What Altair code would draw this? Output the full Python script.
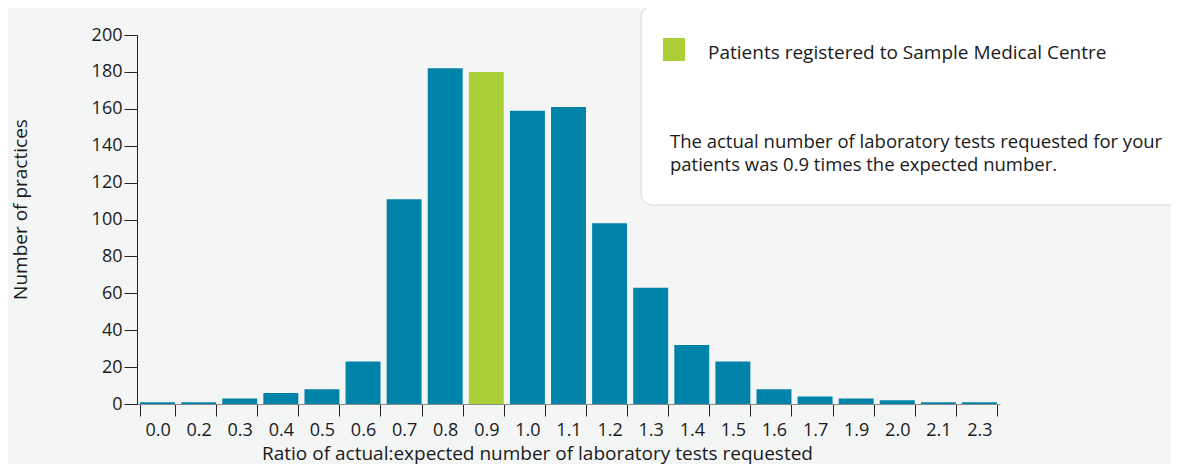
import altair as alt
import pandas as pd

ratios = ["0.0", "0.2", "0.3", "0.4", "0.5", "0.6", "0.7", "0.8", "0.9", "1.0", "1.1",
          "1.2", "1.3", "1.4", "1.5", "1.6", "1.7", "1.9", "2.0", "2.1", "2.3"]
practices = [1, 1, 3, 6, 8, 23, 111, 182, 180, 159, 161, 98, 63, 32, 23, 8, 4, 3, 2, 1, 1]
highlight_ratio = "0.9"
y_ticks = [0, 20, 40, 60, 80, 100, 120, 140, 160, 180, 200]
legend_label = ["Patients registered to Sample Medical Centre"]
note_lines = ["The actual number of laboratory tests requested for your",
              "patients was 0.9 times the expected number."]

FONT = "Open Sans"
TEXT = "#1a1a1a"
BLUE = "#0083a8"
GREEN = "#abcf37"
BG = "#f4f6f6"

df = pd.DataFrame({
    "ratio": ratios,
    "n": practices,
    "group": ["practice" if r != highlight_ratio else "you" for r in ratios],
})

bars = alt.Chart(df).mark_bar().encode(
    x=alt.X("ratio:N", sort=ratios,
            scale=alt.Scale(paddingInner=0.15, paddingOuter=0.075),
            axis=alt.Axis(title="Ratio of actual:expected number of laboratory tests requested",
                          labelAngle=0, tickBand="extent", tickSize=12, labelPadding=5,
                          domainColor="#8a8a8a", tickColor="#222222",
                          titleX=400, titleY=55, titleBaseline="alphabetic",
                          titleAnchor="start", titleAlign="center")),
    y=alt.Y("n:Q", scale=alt.Scale(domain=[0, 200], nice=False),
            axis=alt.Axis(title="Number of practices", values=y_ticks, tickSize=13,
                          labelPadding=2, domainColor="#222222", tickColor="#222222",
                          grid=False, titleX=-117, titleY=174, titleAlign="center",
                          titleBaseline="middle", titleAngle=-90)),
    color=alt.Color("group:N", scale=alt.Scale(domain=["practice", "you"], range=[BLUE, GREEN]),
                    legend=None),
)

box = alt.Chart(pd.DataFrame({"k": [0]})).mark_rect(
    fill="white", stroke="#d4d6d6", strokeWidth=1, cornerRadius=12
).encode(x=alt.value(504), x2=alt.value(1060), y=alt.value(-29), y2=alt.value(170))

swatch = alt.Chart(pd.DataFrame({"k": [0]})).mark_rect(fill=GREEN).encode(
    x=alt.value(526), x2=alt.value(548), y=alt.value(3), y2=alt.value(26))

leg_text = alt.Chart(pd.DataFrame({"t": legend_label})).mark_text(
    align="left", baseline="middle", font=FONT, fontSize=19, color=TEXT
).encode(x=alt.value(571), y=alt.value(18), text="t:N")

note1 = alt.Chart(pd.DataFrame({"t": note_lines[:1]})).mark_text(
    align="left", baseline="middle", font=FONT, fontSize=18.5, color=TEXT
).encode(x=alt.value(533), y=alt.value(107), text="t:N")

note2 = alt.Chart(pd.DataFrame({"t": note_lines[1:]})).mark_text(
    align="left", baseline="middle", font=FONT, fontSize=18.5, color=TEXT
).encode(x=alt.value(533), y=alt.value(130), text="t:N")

chart = alt.layer(bars, box, swatch, leg_text, note1, note2).properties(
    width=863, height=369,
    padding={"left": 129, "top": 27, "right": 171, "bottom": 60},
    autosize=alt.AutoSizeParams(type="none"),
    background=BG,
).configure_view(stroke=None).configure_axis(
    labelFont=FONT, titleFont=FONT, labelFontSize=18, titleFontSize=19,
    labelColor=TEXT, titleColor=TEXT, titleFontWeight="normal",
)

chart.save("out.html", embed_options={"renderer": "svg", "actions": False})
